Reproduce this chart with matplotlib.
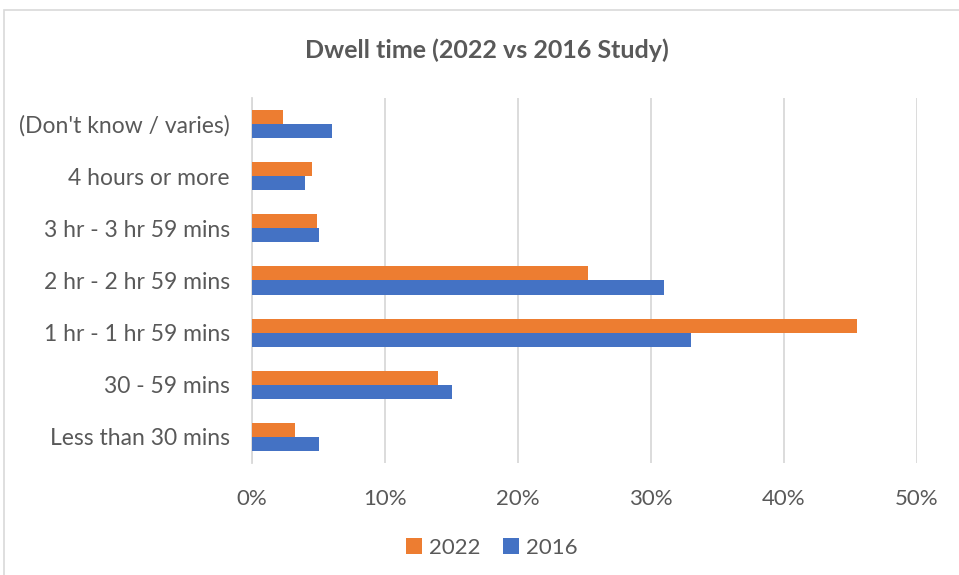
import numpy as np
import matplotlib.pyplot as plt
from matplotlib.patches import Rectangle
from matplotlib.ticker import PercentFormatter

# dwell time categories, bottom to top
categories = ["Less than 30 mins", "30 - 59 mins", "1 hr - 1 hr 59 mins",
              "2 hr - 2 hr 59 mins", "3 hr - 3 hr 59 mins", "4 hours or more",
              "(Don't know / varies)"]
share_2022 = [3.2, 14.0, 45.5, 25.3, 4.9, 4.5, 2.3]
share_2016 = [5.0, 15.0, 33.0, 31.0, 5.0, 4.0, 6.0]

plt.rcParams['font.family'] = ['Lato', 'DejaVu Sans']
grey = '#595959'

fig = plt.figure(figsize=(9.59, 5.75), dpi=100)
ax = fig.add_axes([252/959, 1-463/575, 665/959, 365/575])

y = np.arange(len(categories))
h = 0.27
ax.barh(y + h/2, share_2022, height=h, color='#ED7D31', label='2022', zorder=3)
ax.barh(y - h/2, share_2016, height=h, color='#4472C4', label='2016', zorder=3)

ax.set_xlim(0, 50)
ax.set_ylim(-0.5, len(categories) - 0.5)
ax.set_xticks(np.arange(0, 51, 10))
ax.xaxis.set_major_formatter(PercentFormatter(decimals=0))
ax.set_yticks(y)
ax.set_yticklabels(categories)
ax.grid(axis='x', color='#D9D9D9', linewidth=1.3, zorder=0)
for s in ['top', 'right', 'bottom']:
    ax.spines[s].set_visible(False)
ax.spines['left'].set_color('#D9D9D9')
ax.spines['left'].set_linewidth(1.3)
ax.tick_params(axis='x', length=0, labelsize=16, colors=grey, pad=19)
ax.tick_params(axis='y', length=0, labelsize=16.5, colors=grey, pad=16)

fig.text(487/959, 1-50/575, 'Dwell time (2022 vs 2016 Study)', ha='center', va='center',
         fontsize=18, fontweight='bold', color=grey)

fig.legend(loc='center', bbox_to_anchor=(492/959, 1-548/575), ncol=2, frameon=False,
           fontsize=16, labelcolor=grey, handlelength=0.7, handleheight=0.7,
           handletextpad=0.35, columnspacing=1.0)

# chart border
fig.patches.append(Rectangle((4/959, -0.01), 1.0, 1-10/575 + 0.01, transform=fig.transFigure,
                             fill=False, edgecolor='#D9D9D9', linewidth=1.2))

fig.savefig('out.png', dpi=100, facecolor='white')
